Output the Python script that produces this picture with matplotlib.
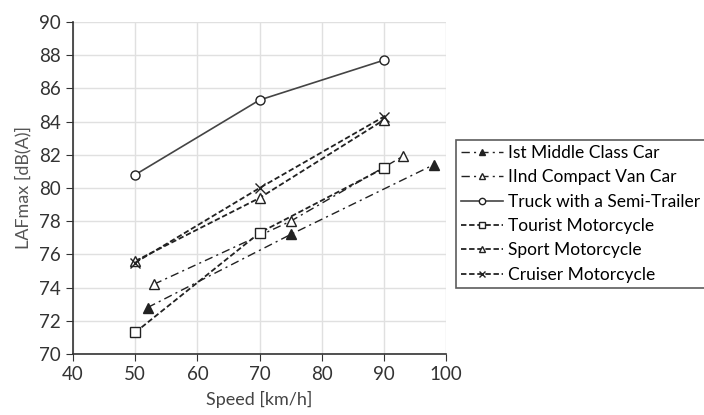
import matplotlib
matplotlib.use("Agg")
import matplotlib.pyplot as plt

plt.rcParams['font.family'] = ['Lato', 'DejaVu Sans']

car1_x = [52, 75, 98]
car1_y = [72.8, 77.2, 81.4]
car2_x = [53, 75, 93]
car2_y = [74.2, 78.0, 81.9]
speeds = [50, 70, 90]
truck_y = [80.8, 85.3, 87.7]
tourist_y = [71.3, 77.3, 81.2]
sport_y = [75.6, 79.4, 84.1]
cruiser_y = [75.5, 80.0, 84.3]

labels = ["Ist Middle Class Car", "IInd Compact Van Car", "Truck with a Semi-Trailer",
          "Tourist Motorcycle", "Sport Motorcycle", "Cruiser Motorcycle"]

fig = plt.figure(figsize=(7.04, 4.15), dpi=100)
ax = fig.add_axes([0.1037, 0.147, 0.53, 0.8])

c = '#222222'
dashdot = (0, (6, 3, 1.5, 3))
dashed = (0, (3, 1.5))
ms = 6.5
ax.plot(car1_x, car1_y, linestyle=dashdot, color=c, lw=1, marker='^', ms=ms,
        mfc=c, mec=c, label=labels[0])
ax.plot(car2_x, car2_y, linestyle=dashdot, color=c, lw=1, marker='^', ms=ms,
        mfc='white', mec=c, label=labels[1])
ax.plot(speeds, truck_y, linestyle='-', color='#444444', lw=1.2, marker='o', ms=ms,
        mfc='white', mec=c, label=labels[2])
ax.plot(speeds, tourist_y, linestyle=dashed, color=c, lw=1.3, marker='s', ms=ms,
        mfc='white', mec=c, label=labels[3])
ax.plot(speeds, sport_y, linestyle=dashed, color=c, lw=1.3, marker='^', ms=ms,
        mfc='white', mec=c, label=labels[4])
ax.plot(speeds, cruiser_y, linestyle=dashed, color=c, lw=1.3, marker='x', ms=ms,
        mfc='white', mec=c, label=labels[5])

ax.set_xlim(40, 100)
ax.set_ylim(70, 90)
ax.set_xticks(range(40, 101, 10))
ax.set_yticks(range(70, 91, 2))
ax.grid(True, color='#e0e0e0', lw=1)
ax.set_axisbelow(True)
for s in ['top', 'right']:
    ax.spines[s].set_visible(False)
for s in ['left', 'bottom']:
    ax.spines[s].set_color('#333333')
    ax.spines[s].set_linewidth(1.2)
ax.tick_params(direction='out', length=5, color='#333333', labelsize=13.5, labelcolor='#333333')
ax.set_xlabel("Speed [km/h]", fontsize=13, color='#444444', labelpad=6)
ax.set_ylabel("LAFmax [dB(A)]", fontsize=13, color='#555555', labelpad=6)

leg = fig.legend(loc='upper left', bbox_to_anchor=(0.648, 0.663), fontsize=12.5,
                 frameon=True, fancybox=False, handlelength=2.4, handletextpad=0.3,
                 borderpad=0.3, labelspacing=0.48, borderaxespad=0, markerscale=0.7)
leg.get_frame().set_edgecolor('#333333')
leg.get_frame().set_linewidth(1.2)

fig.savefig("out.png", dpi=100)
